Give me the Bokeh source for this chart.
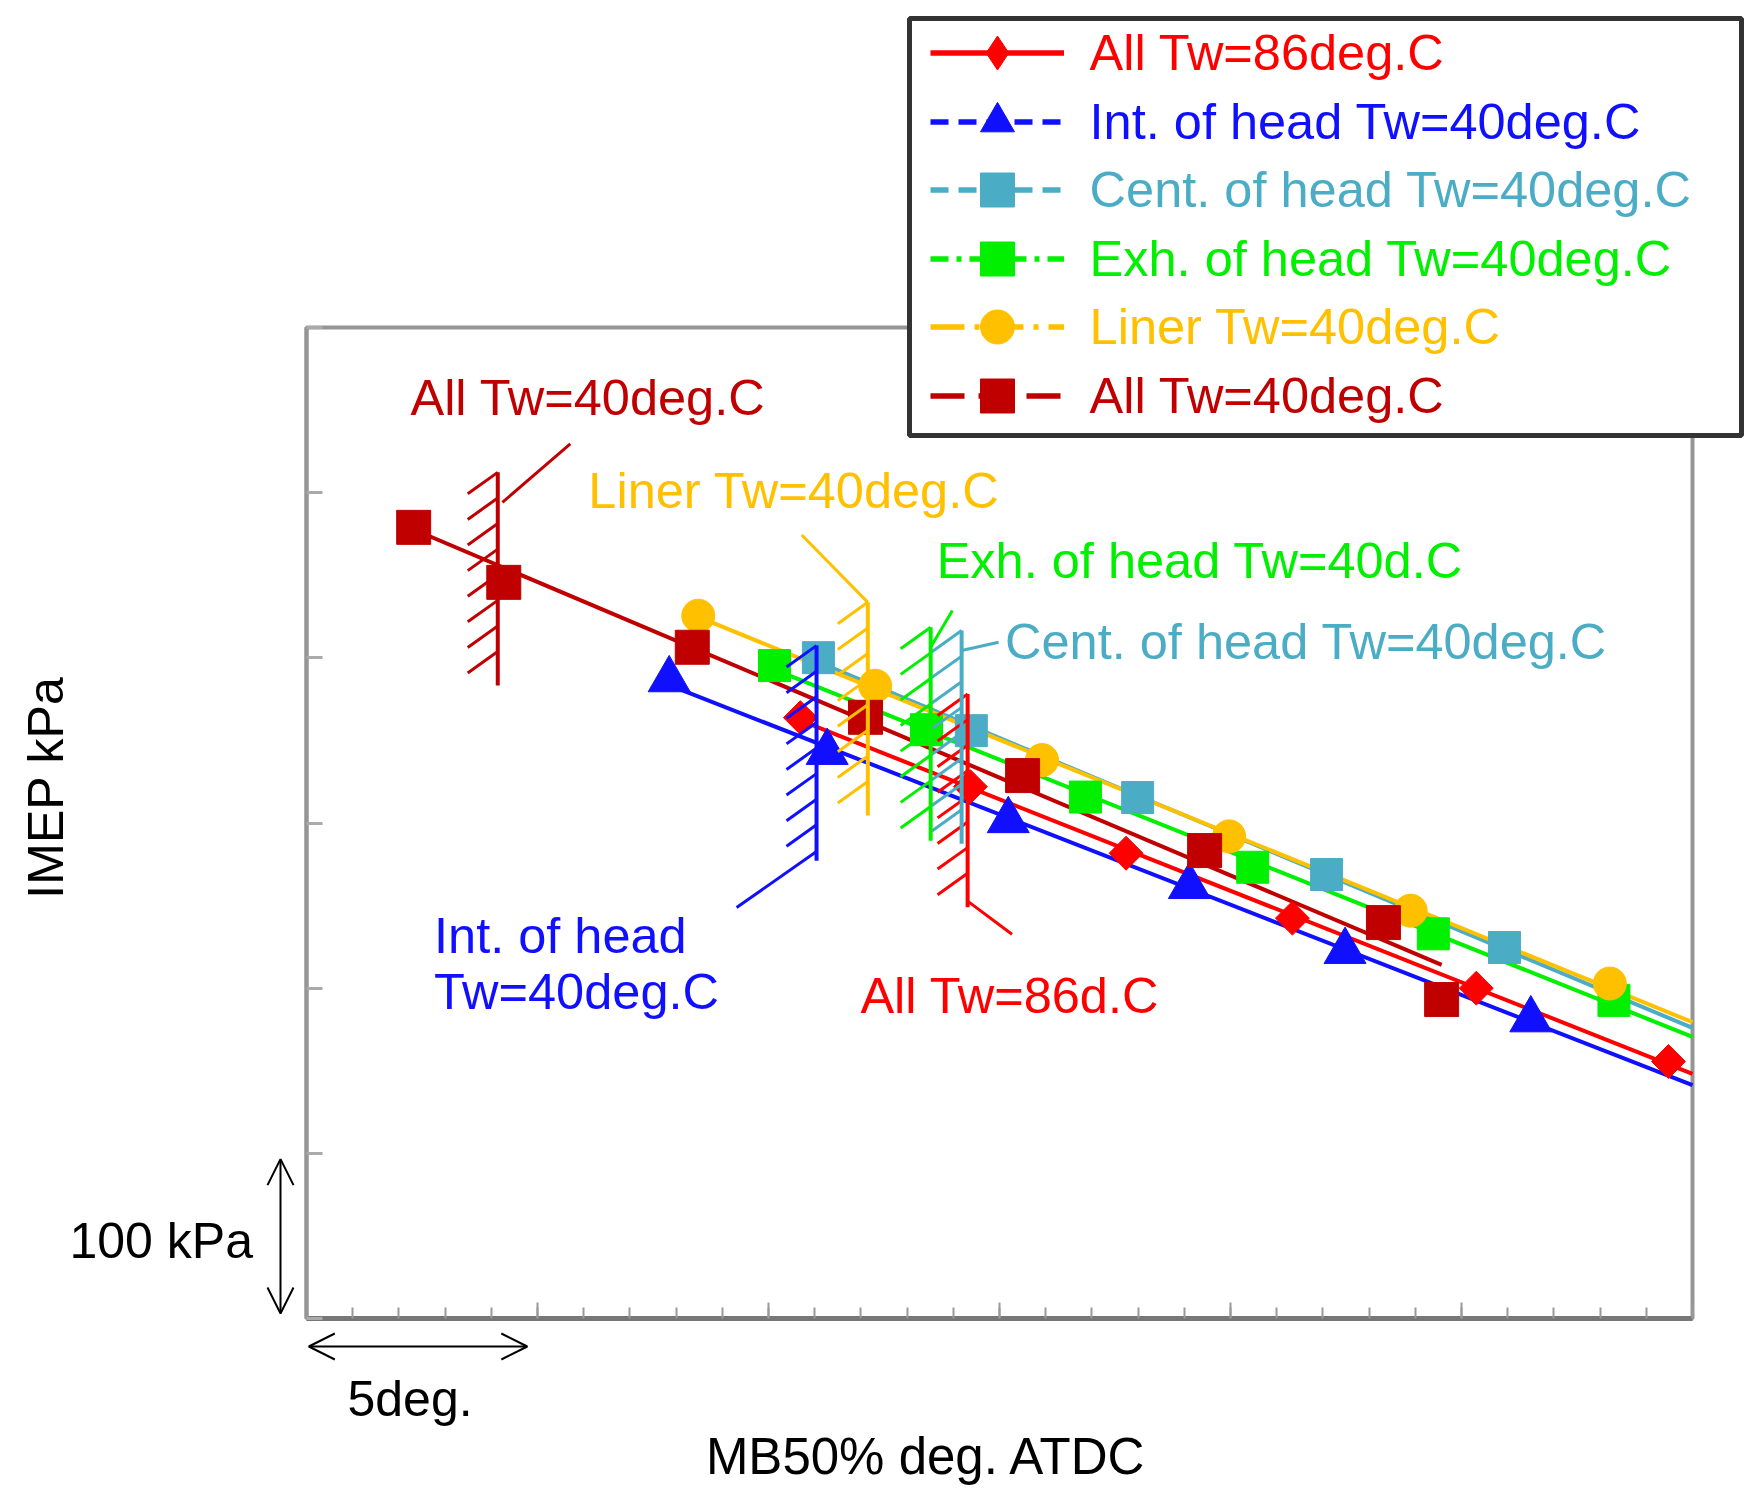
import numpy as np
from bokeh.plotting import figure
from bokeh.models import (Legend, LegendItem, Label, Arrow, OpenHead, BoxAnnotation,
                          SingleIntervalTicker, CustomJSTickFormatter, ColumnDataSource, Range1d)
from bokeh.core.properties import value
from bokeh.embed import file_html
from bokeh.resources import INLINE

FONT = "Liberation Sans"

# ---------------- data (MB50% deg. relative, IMEP kPa relative) ----------------
names = ["All Tw=86deg.C", "Int. of head Tw=40deg.C", "Cent. of head Tw=40deg.C",
         "Exh. of head Tw=40deg.C", "Liner Tw=40deg.C", "All Tw=40deg.C"]

all86_x = [10.69, 14.37, 17.74, 21.34, 25.32, 29.48]
all86_y = [363.8, 322.0, 281.7, 242.4, 200.0, 155.6]
int_x = [7.85, 11.27, 15.19, 19.11, 22.48, 26.50]
int_y = [386.8, 342.8, 301.5, 261.6, 222.3, 180.9]
cent_x = [11.08, 14.39, 17.99, 22.08, 25.93]
cent_y = [400.1, 355.9, 315.4, 268.8, 224.6]
exh_x = [10.13, 13.42, 16.86, 20.48, 24.39, 28.30]
exh_y = [395.3, 356.5, 315.7, 273.2, 232.9, 192.6]
liner_x = [8.48, 12.31, 15.92, 19.97, 23.90, 28.21]
liner_y = [425.5, 383.1, 338.1, 291.9, 246.9, 202.8]
all40_x = [2.32, 4.27, 8.35, 12.10, 15.50, 19.44, 23.31, 24.57]
all40_y = [479.0, 445.7, 406.4, 364.0, 328.7, 283.3, 239.7, 193.1]

# knock-limit marks, same order as the series
limit_x = [14.31, 11.04, 14.18, 13.51, 12.15, 4.14]
limit_top = [378.1, 407.4, 416.5, 418.5, 433.6, 512.3]
limit_bottom = [249.0, 277.2, 287.5, 289.3, 304.5, 383.2]
leader_x0 = [14.31, 11.04, 14.18, 13.51, 12.15, 4.24]
leader_y0 = [252.7, 282.7, 404.4, 406.4, 433.6, 494.1]
leader_x1 = [15.27, 9.31, 14.98, 13.98, 10.72, 5.71]
leader_y1 = [232.6, 248.8, 409.4, 428.6, 474.4, 529.5]

# in-plot notes
note_text = ["All Tw=86d.C", "Int. of head", "Tw=40deg.C", "Cent. of head Tw=40deg.C",
             "Exh. of head Tw=40d.C", "Liner Tw=40deg.C", "All Tw=40deg.C"]
note_x = [11.99, 2.76, 2.76, 15.12, 13.64, 6.10, 2.25]
note_y = [195.8, 231.8, 197.9, 410.0, 458.8, 501.6, 557.5]
note_series = [0, 1, 1, 2, 3, 4, 5]

# axis extents and scale bars
x_span = [0, 30]      # deg (1 deg minor, 5 deg major ticks)
y_span = [0, 600]     # kPa (100 kPa ticks)
bar_deg = [0.05, 4.78]
bar_kpa = [3.0, 96.5]

# ---------------- styles ----------------
colors = ["#FF0000", "#1010FF", "#4BACC6", "#00F000", "#FFC000", "#C00000"]
markers = ["square", "triangle", "square", "square", "circle", "square"]
legend_markers = ["diamond", "triangle", "square", "square", "circle", "square"]
angles = [np.pi / 4, 0, 0, 0, 0, 0]
msizes = [24, 42, 32, 32, 33, 34]
legend_dash = ["solid", "18 10", "18 10", "18 8 5 8", "34 10 5 10", "34 14"]
series_x = [all86_x, int_x, cent_x, exh_x, liner_x, all40_x]
series_y = [all86_y, int_y, cent_y, exh_y, liner_y, all40_y]
line_to_edge = [True, True, True, True, True, False]

# page geometry (px): canvas = whole window, plot box inside it
W, H = 1759, 1490
BL, BT, BR, BB = 306, 327, 1692, 1318
PXX = (BR - BL) / (x_span[1] - x_span[0])
PXY = (BB - BT) / (y_span[1] - y_span[0])

p = figure(frame_width=W, frame_height=H,
           min_border_left=0, min_border_top=0, min_border_right=0, min_border_bottom=0,
           x_range=Range1d(x_span[0] - BL / PXX, x_span[0] + (W - BL) / PXX),
           y_range=Range1d(y_span[0] - (H - BB) / PXY, y_span[0] + BB / PXY),
           output_backend="svg", toolbar_location=None)
p.xgrid.visible = False
p.ygrid.visible = False
p.outline_line_color = None
p.background_fill_color = "white"
p.border_fill_color = "white"

# plot box
p.add_layout(BoxAnnotation(left=x_span[0], right=x_span[1], bottom=y_span[0], top=y_span[1],
                           fill_color=None, fill_alpha=0.0,
                           line_color="#959595", line_alpha=1.0, line_width=4,
                           level="underlay"))

blank = CustomJSTickFormatter(code="return ''")
xa = p.xaxis[0]
xa.fixed_location = y_span[0]
xa.bounds = (x_span[0], x_span[1])
xa.ticker = SingleIntervalTicker(interval=5, num_minor_ticks=5)
xa.formatter = blank
xa.major_label_standoff = 0
xa.major_label_text_font_size = "0px"
xa.major_tick_in = 16
xa.major_tick_out = 0
xa.minor_tick_in = 11
xa.minor_tick_out = 0
xa.axis_line_color = "#777777"
xa.axis_line_width = 5
xa.major_tick_line_color = "#999999"
xa.major_tick_line_width = 2
xa.minor_tick_line_color = "#999999"
xa.minor_tick_line_width = 2

ya = p.yaxis[0]
ya.fixed_location = x_span[0]
ya.bounds = (y_span[0], y_span[1])
ya.ticker = SingleIntervalTicker(interval=100, num_minor_ticks=0)
ya.formatter = blank
ya.major_label_standoff = 0
ya.major_label_text_font_size = "0px"
ya.major_tick_in = 16
ya.major_tick_out = 0
ya.minor_tick_line_color = None
ya.axis_line_color = "#959595"
ya.axis_line_width = 4
ya.major_tick_line_color = "#aaaaaa"
ya.major_tick_line_width = 3

# ---------------- series: fitted lines + markers ----------------
for i in range(6):
    xs = np.array(series_x[i])
    ys = np.array(series_y[i])
    k, b = np.polyfit(xs, ys, 1)
    x0 = xs.min()
    x1 = float(x_span[1]) if line_to_edge[i] else xs.max()
    p.line([x0, x1], [k * x0 + b, k * x1 + b], line_color=colors[i], line_width=4)
for i in range(6):
    p.scatter(series_x[i], series_y[i], marker=markers[i], size=msizes[i], angle=angles[i],
              fill_color=colors[i], line_color=colors[i], line_width=1)

# ---------------- knock-limit hatched marks ----------------
HATCH_DX, HATCH_DY, HATCH_STEP = 0.65, 13.0, 15.5
for i in range(6):
    c = colors[i]
    xl = limit_x[i]
    p.segment([xl], [limit_top[i]], [xl], [limit_bottom[i]], line_color=c, line_width=4)
    ends = np.arange(limit_top[i], limit_bottom[i] + HATCH_DY, -HATCH_STEP)
    p.segment(np.full(len(ends), xl - HATCH_DX), ends - HATCH_DY,
              np.full(len(ends), xl), ends, line_color=c, line_width=3)
    p.segment([leader_x0[i]], [leader_y0[i]], [leader_x1[i]], [leader_y1[i]],
              line_color=c, line_width=3)

note_src = ColumnDataSource(dict(x=note_x, y=note_y, text=note_text,
                                 color=[colors[s] for s in note_series]))
p.text(x="x", y="y", text="text", text_color="color", source=note_src,
       text_font=value(FONT), text_font_size="50.5px",
       text_baseline="middle", text_align="left")

# ---------------- scale bars & axis titles ----------------
for (xs0, ys0, xs1, ys1) in [(-26 / PXX, bar_kpa[0], -26 / PXX, bar_kpa[1]),
                             (bar_deg[0], -28 / PXY, bar_deg[1], -28 / PXY)]:
    p.add_layout(Arrow(x_start=xs0, y_start=ys0, x_end=xs1, y_end=ys1,
                       start=OpenHead(size=26, line_width=2, line_color="black"),
                       end=OpenHead(size=26, line_width=2, line_color="black"),
                       line_color="black", line_width=2))

def screen_label(text, cx, cy, align="left", angle=0.0, size="50px"):
    return Label(x=cx, y=H - cy, x_units="screen", y_units="screen", text=text,
                 text_font=FONT, text_font_size=size, text_color="black",
                 text_align=align, text_baseline="middle", angle=angle)

p.add_layout(screen_label("IMEP kPa", 45, 787, align="center", angle=np.pi / 2))
p.add_layout(screen_label("MB50% deg. ATDC", 926, 1456, align="center", size="51px"))
p.add_layout(screen_label("100 kPa", 69, 1240))
p.add_layout(screen_label("5deg.", 347, 1398))

# ---------------- legend ----------------
p.add_layout(BoxAnnotation(left=909, right=1741, top=H - 18, bottom=H - 435,
                           left_units="screen", right_units="screen",
                           top_units="screen", bottom_units="screen",
                           fill_color="white", fill_alpha=1.0,
                           line_color="#333333", line_alpha=1.0, line_width=5))

GH = 85
for i in range(6):
    src = ColumnDataSource(dict(x=series_x[i], y=series_y[i]))
    r_line = p.line("x", "y", source=src, line_color=colors[i], line_width=5.5,
                    line_dash=legend_dash[i], visible=False)
    r_mark = p.scatter("x", "y", source=src, marker=legend_markers[i],
                       fill_color=colors[i], line_color=colors[i], visible=False)
    row_c = 52.6 + i * 68.5
    leg = Legend(items=[LegendItem(label=names[i], renderers=[r_line, r_mark])],
                 location=(929.6, H - (row_c + GH / 2)),
                 padding=0, margin=0, spacing=0,
                 glyph_width=134, glyph_height=GH, label_height=GH,
                 label_standoff=26, label_text_font=FONT, label_text_font_size="50.5px",
                 label_text_color=colors[i], label_text_baseline="middle",
                 border_line_color=None, background_fill_alpha=0.0,
                 inactive_fill_alpha=0.0)
    p.add_layout(leg)

open("out.html", "w").write(file_html(p, INLINE))
